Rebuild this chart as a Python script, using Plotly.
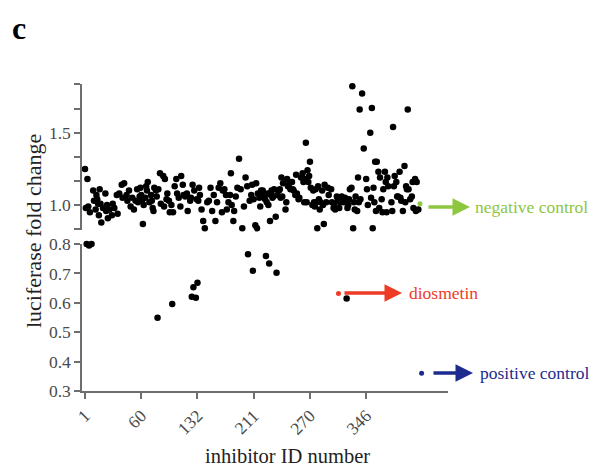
import numpy as np
import plotly.graph_objects as go

# ---- data ----
screen_ids = [
    1, 2, 3, 4, 5, 6, 7, 9, 11, 12, 14, 15, 16, 17, 18, 19, 20, 21, 23, 26, 27, 28, 29, 31, 34, 35, 37,
    40, 41, 43, 46, 47, 49, 52, 53, 55, 57, 59, 61, 63, 65, 66, 68,
    69, 70, 71, 72, 73, 75, 76, 77, 78, 80, 82, 83, 84, 85, 86, 88, 89, 90, 91, 93, 94, 97, 98, 99,
    101, 102, 104, 105, 107, 108, 109, 111, 113, 114, 116, 118, 119, 121, 122, 124, 126, 127, 130,
    131, 132, 133, 134, 135, 137, 138, 139,
    140, 141, 142, 144, 146, 148, 151, 153, 155, 157, 159, 161, 163, 165, 167, 169, 170, 172, 174,
    175, 177, 179, 180, 181, 183, 184, 186, 188, 190, 192, 194, 196, 198, 200, 201, 203, 205, 206,
    207, 208, 210,
    211, 212, 213, 215, 216, 217, 219, 220, 221, 222, 223, 224, 225, 226, 227, 228, 229, 230, 231,
    232, 233, 235, 236, 237, 239, 240, 241, 242, 243, 244, 247, 248, 249, 250, 251, 253, 255, 256,
    257, 259, 260, 261, 263, 264, 266, 268, 269, 270, 271, 272, 273, 274, 275, 276, 277, 278, 280,
    281, 282, 283, 284,
    285, 286, 287, 288, 289, 290, 292, 293, 294, 295, 297, 299, 300, 303, 304, 306, 307, 308, 310,
    311, 313, 314, 316, 318, 320, 321, 322, 323, 324, 325, 326, 328, 329, 330, 331, 332, 333, 335,
    336, 337, 338, 339, 341, 343, 346, 347, 348, 351, 352, 353, 354, 355, 356, 357, 358, 359, 361,
    362, 363, 365, 366, 367, 369, 370, 371, 372, 373, 377, 378, 379, 380, 381, 383, 384, 385, 387,
    388, 389, 391, 393, 394, 395, 396, 397, 398, 400, 402, 403, 404, 406, 407, 408, 410,
]
screen_fold = [
    1.25, 0.98, 0.80, 1.18, 0.99, 0.795, 0.95, 0.80, 1.10, 1.03, 0.97, 1.07, 1.04, 1.01, 0.93, 1.11, 1.01, 0.88, 0.98, 1.08, 0.96, 1.00, 0.91, 0.97, 0.93, 1.01, 0.98,
    1.07, 0.94, 1.08, 1.14, 1.05, 1.15, 1.07, 1.03, 1.10, 0.99, 1.05, 0.97, 1.03, 1.11, 1.02, 1.06,
    1.12, 1.07, 1.03, 0.87, 1.00, 1.05, 1.13, 1.10, 1.16, 1.02, 1.07, 1.03, 0.98, 0.96, 1.12, 1.10, 1.06, 0.549, 1.11, 1.22, 1.01, 1.20, 0.99, 1.18,
    1.04, 1.08, 1.03, 0.95, 1.00, 0.596, 0.95, 1.13, 1.18, 1.08, 1.05, 0.99, 1.20, 1.14, 1.07, 1.06, 1.08, 0.96, 1.03,
    1.05, 0.621, 1.14, 0.653, 1.10, 0.617, 1.04, 0.668,
    1.03, 1.12, 1.07, 0.97, 0.89, 0.84, 1.02, 1.03, 1.12, 0.96, 1.07, 0.89, 1.02, 1.12, 1.15, 0.95, 1.10, 1.11, 1.07,
    0.97, 1.02, 1.07, 1.22, 1.00, 0.89, 0.96, 1.06, 1.12, 1.32, 1.11, 0.84, 0.99, 1.19, 1.13, 0.765, 1.03, 1.07, 1.14,
    0.709, 1.04, 0.86,
    1.15, 0.84, 1.08, 1.05, 0.99, 1.10, 1.10, 1.07, 1.06, 1.04, 0.759, 1.02, 1.08, 1.00, 0.734, 0.89, 1.07, 1.10, 1.05,
    1.06, 1.11, 0.92, 0.702, 1.07, 1.10, 1.11, 1.05, 1.19, 1.06, 1.15, 0.97, 1.02, 1.18, 1.13, 1.14, 1.11, 1.16, 1.11,
    1.10, 1.07, 1.21, 1.08, 1.04, 1.05, 1.19, 1.22, 1.16, 1.02, 1.18, 1.43, 1.02, 1.24, 1.16, 1.20, 1.30, 1.12, 1.00,
    1.10, 1.02, 0.99, 1.11,
    1.02, 0.84, 1.13, 1.04, 0.97, 1.02, 1.10, 1.00, 0.87, 1.14, 1.02, 1.12, 1.07, 1.11, 1.02, 0.98, 1.00, 0.97, 1.06,
    1.03, 0.98, 1.02, 1.06, 1.02, 1.05, 1.02, 0.615, 0.98, 1.00, 1.04, 1.11, 1.12, 1.82, 0.84, 1.02, 0.97, 1.06, 0.96,
    1.19, 1.02, 1.66, 1.04, 1.77, 1.39, 1.18, 1.11, 1.00, 1.50, 1.05, 1.67, 0.84, 1.12, 1.02, 1.30, 0.96, 1.30, 1.23,
    0.98, 1.19, 1.04, 0.95, 1.11, 1.23, 1.16, 0.95, 1.19, 1.13, 1.02, 0.96, 1.54, 1.13, 1.20, 1.16, 1.06, 1.06, 1.23,
    1.05, 1.03, 0.96, 1.27, 1.02, 1.13, 1.11, 1.66, 1.11, 1.04, 1.06, 1.16, 0.98, 1.18, 0.96, 1.16, 0.97,
]

control_names = ["negative control", "diosmetin", "positive control"]
control_ids = [412, 312, 414]
control_fold = [1.01, 0.632, 0.36]
control_colors = ["#8dc63f", "#ee3b24", "#1d2b8e"]

x_tick_labels = ["1", "60", "132", "211", "270", "346"]
lower_tick_vals = [0.3, 0.4, 0.5, 0.6, 0.7, 0.8]
lower_tick_text = ["0.3", "0.4", "0.5", "0.6", "0.7", "0.8"]
upper_tick_vals = [5 / 6, 1.0, 7 / 6, 4 / 3, 1.5, 5 / 3, 11 / 6]
upper_tick_text = ["", "1.0", "", "", "1.5", "", ""]

BREAK = 0.81
ids = np.array(screen_ids)
fold = np.array(screen_fold)
up = fold > BREAK

SERIF = "Liberation Serif, Times New Roman, DejaVu Serif, serif"
AXIS = "#6e6e6e"
TICKF = dict(family=SERIF, size=17.5, color="#4a4a4a")

fig = go.Figure()
fig.add_trace(go.Scatter(x=ids[up], y=fold[up], mode="markers", xaxis="x", yaxis="y2",
                         marker=dict(color="black", size=6.5), cliponaxis=False, hoverinfo="x+y"))
fig.add_trace(go.Scatter(x=ids[~up], y=fold[~up], mode="markers", xaxis="x", yaxis="y",
                         marker=dict(color="black", size=6.5), cliponaxis=False, hoverinfo="x+y"))
for name, cid, cv, col in zip(control_names, control_ids, control_fold, control_colors):
    fig.add_trace(go.Scatter(x=[cid], y=[cv], mode="markers", name=name,
                             xaxis="x", yaxis="y2" if cv > BREAK else "y",
                             marker=dict(color=col, size=5), cliponaxis=False))

axis_common = dict(showline=True, linecolor=AXIS, linewidth=1.5, ticks="outside",
                   ticklen=6, tickwidth=1.5, tickcolor=AXIS, showgrid=False,
                   zeroline=False, tickfont=TICKF)

fig.update_layout(
    width=590, height=470,
    margin=dict(l=82, r=142, t=84, b=79),
    paper_bgcolor="white", plot_bgcolor="white",
    showlegend=False,
    xaxis=dict(domain=[0, 1], range=[-2.7, 446.4], anchor="y",
               tickvals=list(np.linspace(1, 346, len(x_tick_labels))),
               ticktext=x_tick_labels, tickangle=-45, **axis_common),
    yaxis=dict(domain=[0, 0.4788], range=[0.3, 0.8], anchor="x",
               tickvals=lower_tick_vals, ticktext=lower_tick_text, **axis_common),
    yaxis2=dict(domain=[0.5244, 1], range=[0.828, 1.836], anchor="x",
                tickvals=upper_tick_vals, ticktext=upper_tick_text, **axis_common),
)

# labels, arrows, titles
arrow_specs = [  # tip x (paper), y (paper), tail offset px, text x (paper)
    (1.0601, 0.5993, -43, 1.0683),
    (0.8743, 0.3192, -59, 0.888),
    (1.0683, 0.0586, -41, 1.0811),
]
for (tx, ty, axo, lx), name, col in zip(arrow_specs, control_names, control_colors):
    fig.add_annotation(x=tx, y=ty, xref="paper", yref="paper", ax=axo, ay=0, text="",
                       showarrow=True, arrowhead=2, arrowsize=1, arrowwidth=3.5,
                       arrowcolor=col, standoff=0, startstandoff=0)
    fig.add_annotation(x=lx, y=ty, xref="paper", yref="paper", text=name, showarrow=False,
                       xanchor="left", yanchor="middle",
                       font=dict(family=SERIF, size=17.5, color=col))

fig.add_annotation(x=0.5628, y=-0.212, xref="paper", yref="paper", text="inhibitor ID number",
                   showarrow=False, xanchor="center", yanchor="middle",
                   font=dict(family=SERIF, size=20.5, color="#222222"))
fig.add_annotation(x=-0.1339, y=0.521, xref="paper", yref="paper", text="luciferase fold change",
                   showarrow=False, textangle=-90, xanchor="center", yanchor="middle",
                   font=dict(family=SERIF, size=22, color="#222222"))
fig.add_annotation(x=-0.172, y=1.182, xref="paper", yref="paper", text="<b>c</b>",
                   showarrow=False, xanchor="center", yanchor="middle",
                   font=dict(family=SERIF, size=32, color="black"))

fig.write_html("out.html", config={"displayModeBar": False},
               post_script="document.body.style.margin='0px';")
